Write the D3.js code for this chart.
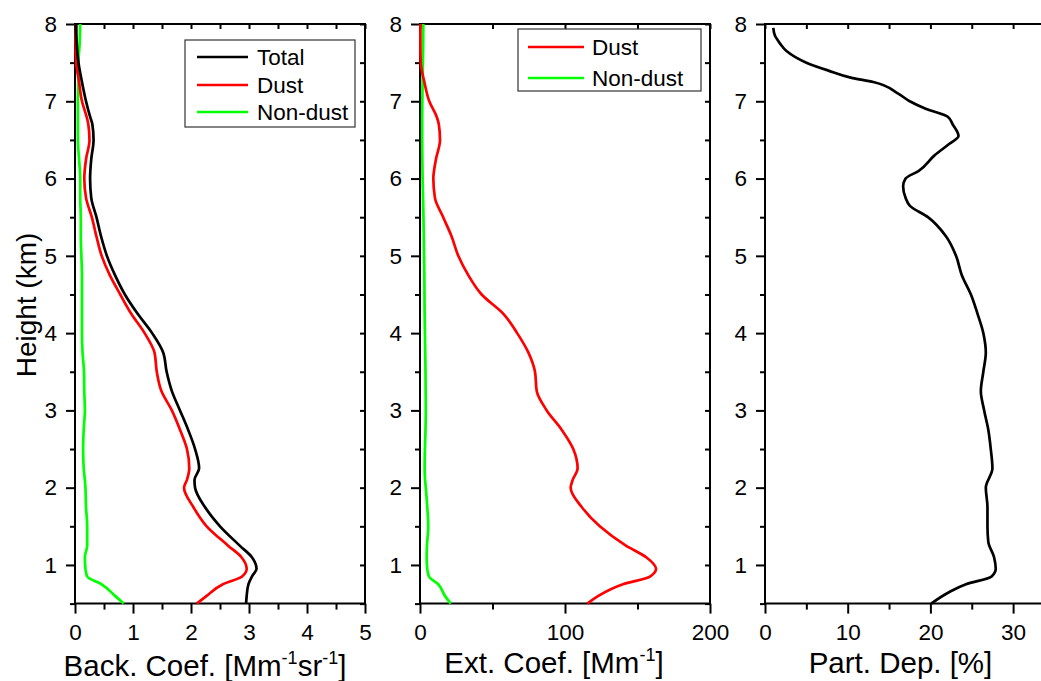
<!DOCTYPE html>
<html>
<head>
<meta charset="utf-8">
<script src="https://cdn.jsdelivr.net/npm/d3@7"></script>
<style>
  html, body { margin: 0; padding: 0; background: #fff; }
  svg { display: block; font-family: "Liberation Sans", Arial, sans-serif; }
</style>
</head>
<body>
<svg id="chart" width="1041" height="681"></svg>
<script>
// ---------------- DATA ----------------
const heights = [0.5, 0.6, 0.75, 0.85, 0.95, 1.1, 1.25, 1.5, 1.75, 2.0, 2.1, 2.25, 2.5, 2.75, 3.0, 3.25, 3.5, 3.75, 4.0, 4.25, 4.5, 4.75, 5.0, 5.25, 5.5, 5.75, 6.0, 6.25, 6.5, 6.7, 6.8, 7.0, 7.25, 7.5, 7.75, 8.0];

const backTotal = [2.95, 2.96, 2.99, 3.05, 3.13, 3.05, 2.84, 2.5, 2.24, 2.07, 2.06, 2.14, 2.07, 1.95, 1.81, 1.67, 1.58, 1.52, 1.33, 1.08, 0.86, 0.69, 0.55, 0.45, 0.37, 0.28, 0.26, 0.28, 0.32, 0.30, 0.26, 0.19, 0.12, 0.06, 0.03, 0.02];
const backDust = [2.10, 2.27, 2.55, 2.88, 2.96, 2.87, 2.64, 2.27, 2.04, 1.88, 1.93, 1.97, 1.93, 1.81, 1.67, 1.49, 1.41, 1.37, 1.20, 0.97, 0.78, 0.60, 0.46, 0.37, 0.29, 0.19, 0.16, 0.19, 0.25, 0.23, 0.20, 0.12, 0.07, 0.02, 0.01, 0.02];
const backNonDust = [0.84, 0.69, 0.46, 0.21, 0.18, 0.17, 0.21, 0.21, 0.19, 0.18, 0.17, 0.15, 0.14, 0.15, 0.17, 0.16, 0.155, 0.13, 0.12, 0.12, 0.12, 0.12, 0.11, 0.10, 0.10, 0.09, 0.09, 0.07, 0.05, 0.05, 0.05, 0.05, 0.06, 0.06, 0.08, 0.09];

const extDust = [115.4, 123, 140, 158.6, 162.8, 156, 142, 124, 111.5, 103.9, 105.3, 108.7, 105.7, 97.7, 87.4, 80.5, 79.3, 74.7, 67, 57.5, 42.5, 33.3, 26.4, 21.8, 16, 10.3, 9.2, 11, 13.8, 13, 11.5, 6.4, 3, 0.5, 0.3, 0.3];
const extNonDust = [21.2, 17.2, 12.6, 6.2, 5, 4.6, 4.8, 5.7, 5, 4, 3.5, 3.2, 3.4, 3.8, 4, 3.9, 3.8, 3.6, 3.4, 3.2, 3.1, 3, 2.8, 2.6, 2.4, 2.1, 1.8, 1.6, 1.5, 1.5, 1.5, 1.6, 1.8, 2.0, 2.2, 2.3];

const depHeights = [0.5, 0.65, 0.75, 0.85, 0.95, 1.1, 1.3, 1.5, 1.75, 2.0, 2.25, 2.5, 2.75, 3.0, 3.25, 3.5, 3.75, 4.0, 4.25, 4.5, 4.75, 5.0, 5.25, 5.5, 5.65, 5.75, 5.9, 6.0, 6.1, 6.3, 6.45, 6.55, 6.7, 6.8, 6.9, 7.0, 7.1, 7.25, 7.3, 7.4, 7.5, 7.65, 7.75, 7.85, 7.95];
const partDep = [20.1, 22.3, 24.3, 27.4, 27.9, 27.7, 27.0, 26.9, 26.9, 26.7, 27.5, 27.3, 27.0, 26.5, 26.1, 26.4, 26.7, 26.4, 25.7, 24.9, 23.8, 23.1, 21.9, 19.7, 17.5, 17.0, 16.7, 17.0, 18.6, 20.5, 22.3, 23.4, 22.7, 22.1, 19.5, 17.5, 16.1, 13.1, 10.6, 7.6, 5.0, 2.6, 1.8, 1.2, 1.0];

const yMajorTicks = [1, 2, 3, 4, 5, 6, 7, 8];
const yMinorTicks = [0.5, 1.5, 2.5, 3.5, 4.5, 5.5, 6.5, 7.5];
const backMajor = [0, 1, 2, 3, 4, 5];
const backMinor = [0.5, 1.5, 2.5, 3.5, 4.5];
const extMajor = [0, 100, 200];
const extMinor = [50, 150];
const depMajor = [0, 10, 20, 30];
const depMinor = [5, 15, 25];

const legend1 = ["Total", "Dust", "Non-dust"];
const legend2 = ["Dust", "Non-dust"];

// ---------------- LAYOUT ----------------
const svg = d3.select("#chart");
const TOP = 24, BOTTOM = 603.6;
const y = d3.scaleLinear().domain([0.5, 8]).range([BOTTOM, TOP]);

const panels = [
  { x: d3.scaleLinear().domain([0, 5]).range([75, 365]), major: backMajor, minor: backMinor, right: true, titleX: 205, titleY: 676 },
  { x: d3.scaleLinear().domain([0, 200]).range([420, 710]), major: extMajor, minor: extMinor, right: true, titleX: 554, titleY: 673 },
  { x: d3.scaleLinear().domain([0, 34]).range([765, 765 + 34 * 8.27]), major: depMajor, minor: depMinor, right: false, titleX: 900.5, titleY: 673 }
];

const TICKFONT = 22.5;
const FONT = "Liberation Sans, Arial, sans-serif";

function drawFrame(p) {
  const g = svg.append("g");
  const [x0, x1] = p.x.range();
  g.append("g").attr("transform", `translate(${x0},0)`)
    .call(d3.axisLeft(y).tickValues(yMajorTicks).tickSize(9).tickPadding(9).tickFormat(d3.format("d")));
  g.append("g").attr("transform", `translate(${x0},0)`)
    .call(d3.axisLeft(y).tickValues(yMinorTicks).tickSize(5).tickFormat(""));
  g.append("g").attr("transform", `translate(0,${BOTTOM})`)
    .call(d3.axisBottom(p.x).tickValues(p.major).tickSize(10).tickPadding(10).tickFormat(d3.format("d")));
  g.append("g").attr("transform", `translate(0,${BOTTOM})`)
    .call(d3.axisBottom(p.x).tickValues(p.minor).tickSize(6).tickFormat(""));
  g.append("g").attr("transform", `translate(0,${TOP})`)
    .call(d3.axisTop(p.x).tickValues(p.major.concat(p.minor)).tickSize(-5).tickFormat(""));
  if (p.right) {
    g.append("g").attr("transform", `translate(${x1},0)`)
      .call(d3.axisRight(y).tickValues(yMajorTicks.concat(yMinorTicks)).tickSize(-5).tickFormat(""));
  }
  g.selectAll(".domain").remove();
  g.selectAll("line").attr("stroke", "#000").attr("stroke-width", 2);
  g.selectAll("text").attr("font-size", TICKFONT).attr("font-family", FONT).attr("fill", "#000");
  const xr = p.right ? x1 : 1041 + 5;
  g.append("line").attr("x1", x0).attr("x2", x0).attr("y1", TOP).attr("y2", BOTTOM);
  g.append("line").attr("x1", x0).attr("x2", xr).attr("y1", BOTTOM).attr("y2", BOTTOM);
  g.append("line").attr("x1", x0).attr("x2", xr).attr("y1", TOP).attr("y2", TOP);
  if (p.right) g.append("line").attr("x1", x1).attr("x2", x1).attr("y1", TOP).attr("y2", BOTTOM);
  g.selectAll(":scope > line").attr("stroke", "#000").attr("stroke-width", 2).attr("stroke-linecap", "square");
  return g;
}

panels.forEach(drawFrame);

function drawSeries(xs, hs, vs, color) {
  const line = d3.line()
    .x((d, i) => xs(vs[i]))
    .y((d) => y(d))
    .curve(d3.curveMonotoneY);
  svg.append("path")
    .attr("d", line(hs))
    .attr("fill", "none")
    .attr("stroke", color)
    .attr("stroke-width", 2.7)
    .attr("stroke-linejoin", "round");
}

drawSeries(panels[0].x, heights, backNonDust, "#00ff00");
drawSeries(panels[0].x, heights, backDust, "#ff0000");
drawSeries(panels[0].x, heights, backTotal, "#000000");
drawSeries(panels[1].x, heights, extNonDust, "#00ff00");
drawSeries(panels[1].x, heights, extDust, "#ff0000");
drawSeries(panels[2].x, depHeights, partDep, "#000000");

// ---------------- LEGENDS ----------------
function drawLegend(x0, y0, w, h, names, colors, rowYs, lx0, lx1, tx) {
  const g = svg.append("g");
  g.append("rect").attr("x", x0).attr("y", y0).attr("width", w).attr("height", h)
    .attr("fill", "#fff").attr("stroke", "#333").attr("stroke-width", 1.2);
  names.forEach((n, i) => {
    g.append("line").attr("x1", lx0).attr("x2", lx1).attr("y1", rowYs[i]).attr("y2", rowYs[i])
      .attr("stroke", colors[i]).attr("stroke-width", 2.7);
    g.append("text").attr("x", tx).attr("y", rowYs[i] + 8).attr("font-size", 22.5)
      .attr("font-family", FONT).attr("fill", "#000").text(n);
  });
}
drawLegend(185, 40, 170, 87, legend1, ["#000", "#ff0000", "#00ff00"], [57, 85, 112], 197, 248, 257);
drawLegend(518, 29, 183, 62, legend2, ["#ff0000", "#00ff00"], [47, 78], 528, 584, 592);

// ---------------- TITLES ----------------
svg.append("text")
  .attr("transform", "translate(36,305) rotate(-90)")
  .attr("text-anchor", "middle").attr("font-size", 28).attr("font-family", FONT).text("Height (km)");

function titleWithSup(p, parts) {
  const t = svg.append("text").attr("x", p.titleX).attr("y", p.titleY)
    .attr("text-anchor", "middle").attr("font-size", 29.5).attr("font-family", FONT);
  let lastSup = false;
  parts.forEach(([s, sup]) => {
    if (sup) {
      t.append("tspan").attr("font-size", 18).attr("dy", -12).text(s);
    } else {
      t.append("tspan").attr("dy", lastSup ? 12 : 0).text(s);
    }
    lastSup = !!sup;
  });
}
titleWithSup(panels[0], [["Back. Coef. [Mm", false], ["-1", true], ["sr", false], ["-1", true], ["]", false]]);
titleWithSup(panels[1], [["Ext. Coef. [Mm", false], ["-1", true], ["]", false]]);
titleWithSup(panels[2], [["Part. Dep. [%]", false]]);
</script>
</body>
</html>
